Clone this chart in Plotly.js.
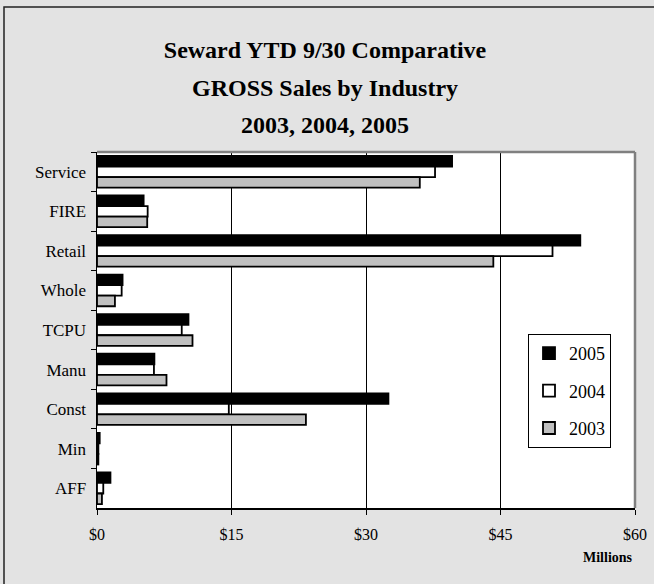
<!DOCTYPE html>
<html>
<head>
<meta charset="utf-8">
<script src="https://cdn.plot.ly/plotly-3.0.1.min.js"></script>
<style>
html,body{margin:0;padding:0;background:#e3e3e3;}
#chart{width:654px;height:584px;}
</style>
</head>
<body>
<div id="chart"></div>
<script>
var categories = ['Service','FIRE','Retail','Whole','TCPU','Manu','Const','Min','AFF'];
var sales2005 = [39.6, 5.2, 53.9, 2.85, 10.2, 6.4, 32.5, 0.3, 1.5];
var sales2004 = [37.7, 5.65, 50.8, 2.75, 9.45, 6.35, 14.7, 0.15, 0.7];
var sales2003 = [36.0, 5.6, 44.2, 2.0, 10.65, 7.75, 23.3, 0.15, 0.55];
var seriesNames = ['2005','2004','2003'];
var titleLines = ['Seward YTD 9/30 Comparative','GROSS Sales by Industry','2003, 2004, 2005'];
var xTickVals = [0, 15, 30, 45, 60];
var xTickText = ['$0','$15','$30','$45','$60'];

var W = 654, H = 584;
var L = 97, R = 635, T = 152, B = 508;
function px(x){ return (x - L) / (R - L); }
function py(y){ return (B - y) / (B - T); }

var serif = 'Liberation Serif, Times New Roman, serif';
function mk(name, vals, fill, grp){
  return {
    type:'bar', orientation:'h', name:name, x:vals, y:categories,
    legendgroup: grp,
    marker:{color:fill, line:{color:'#000', width:1.8}},
    hoverinfo:'x+name'
  };
}
var data = [
  mk(seriesNames[0], sales2005, '#000000', 'a'),
  mk(seriesNames[1], sales2004, '#ffffff', 'b'),
  mk(seriesNames[2], sales2003, '#c0c0c0', 'c')
];

var layout = {
  width:W, height:H,
  margin:{l:L, r:W-R, t:T, b:H-B, pad:0},
  paper_bgcolor:'#e3e3e3',
  plot_bgcolor:'#ffffff',
  font:{family:serif, color:'#000', size:15},
  barmode:'group', bargap:0.2, bargroupgap:0,
  title:{text:'<b>'+titleLines[0]+'</b>', font:{family:serif, size:24, color:'#000'},
         xref:'paper', x:px(325), xanchor:'center', yref:'container', y:1-50/H, yanchor:'middle'},
  xaxis:{range:[0,60], tickvals:xTickVals, ticktext:xTickText, showgrid:true, gridcolor:'#000', gridwidth:1,
         zeroline:false, showline:true, linecolor:'#000', linewidth:1.5, ticks:'outside', ticklen:5,
         tickcolor:'#000', ticklabelstandoff:6, tickfont:{family:serif, size:16}, fixedrange:true},
  yaxis:{type:'category', autorange:'reversed', showgrid:false, showline:true, linecolor:'#000', linewidth:1.5,
         ticks:'outside', ticklen:5, tickcolor:'#000', tickson:'boundaries', ticklabelstandoff:6,
         tickfont:{family:serif, size:17}, fixedrange:true},
  showlegend:true,
  legend:{x:px(528), y:py(334), xanchor:'left', yanchor:'top', bgcolor:'#ffffff', bordercolor:'#000', borderwidth:1,
          font:{family:serif, size:18}, traceorder:'grouped', tracegroupgap:11, itemwidth:30},
  shapes:[
    {type:'line', xref:'paper', yref:'paper', x0:0, x1:1, y0:1, y1:1, line:{color:'#808080', width:2.5}},
    {type:'line', xref:'paper', yref:'paper', x0:1, x1:1, y0:0, y1:1, line:{color:'#808080', width:2.5}},
    {type:'rect', xref:'paper', yref:'paper', x0:px(4), x1:px(700), y0:py(7), y1:py(640), line:{color:'#222', width:1.5}, fillcolor:'rgba(0,0,0,0)'}
  ],
  annotations:[
    {text:'<b>'+titleLines[1]+'</b>', xref:'paper', yref:'paper', x:px(325), y:py(88), xanchor:'center', yanchor:'middle', showarrow:false, font:{family:serif, size:24}},
    {text:'<b>'+titleLines[2]+'</b>', xref:'paper', yref:'paper', x:px(325), y:py(125), xanchor:'center', yanchor:'middle', showarrow:false, font:{family:serif, size:24}},
    {text:'<b>Millions</b>', xref:'paper', yref:'paper', x:1, y:py(557), xanchor:'right', yanchor:'middle', showarrow:false, font:{family:serif, size:14}}
  ]
};
Plotly.newPlot('chart', data, layout, {displayModeBar:false, staticPlot:true});
</script>
</body>
</html>
